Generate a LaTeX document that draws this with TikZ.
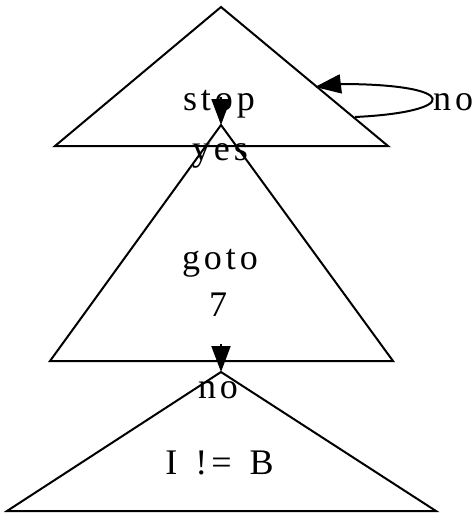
\documentclass[tikz,border=0pt]{standalone}
\usepackage{fontspec}
\setmainfont{Liberation Serif}[LetterSpace=11]
\usetikzlibrary{arrows.meta}
\begin{document}
\begin{tikzpicture}[x=1pt,y=-1pt,
  shape line/.style={draw=black,line width=2pt,line join=miter},
  edge line/.style={draw=black,line width=2pt,-{Triangle[length=26pt,width=19pt]}},
  lbl/.style={inner sep=0pt,anchor=base,font=\fontsize{36}{42}\selectfont}]
\useasboundingbox (0,0) rectangle (473,514);
% triangles
\draw[shape line] (221,7) -- (388,146) -- (55,146) -- cycle;
\draw[shape line] (221,125) -- (393,361) -- (50,361) -- cycle;
\draw[shape line] (221,372) -- (436,511) -- (7,511) -- cycle;
% apexes and edge anchors
\coordinate (a2) at (221,125);
\coordinate (a3) at (221,372);
\coordinate (s1) at (221,97);
\coordinate (s2) at (221,344);
\coordinate (l1) at (355,117);
\coordinate (l2) at (315,87);
% texts
\node[lbl] (stop) at (219,110) {stop};
\node[lbl] (goto) at (220,269) {goto};
\node[lbl] (seven) at (218,316) {7};
\node[lbl] (cond) at (219.5,474) {I\hspace{5pt} !=\hspace{5pt} B};
\node[lbl] (yes) at (220,160) {yes};
\node[lbl] (no1) at (218,398) {no};
\node[lbl,anchor=base west] (no2) at (433,110) {no};
% edges
\draw[edge line] (s1) -- (a2);
\draw[edge line] (s2) -- (a3);
\draw[edge line] (l1) .. controls (461,112) and (461,84) .. (340,84) -- (l2);
\end{tikzpicture}
\end{document}
